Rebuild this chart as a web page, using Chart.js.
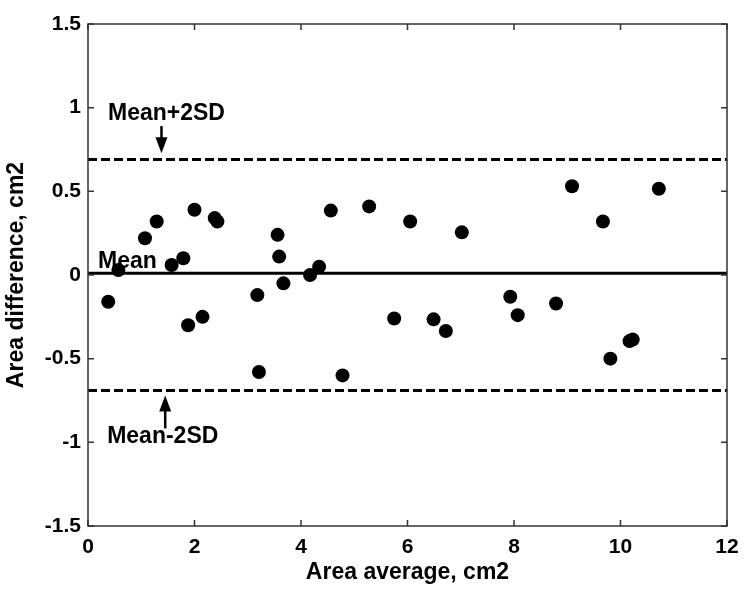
<!DOCTYPE html>
<html>
<head>
<meta charset="utf-8">
<script src="https://cdn.jsdelivr.net/npm/chart.js@4.4.1/dist/chart.umd.min.js"></script>
<style>
  html, body { margin: 0; padding: 0; background: #fff; }
  #wrap { width: 750px; height: 593px; }
</style>
</head>
<body>
<div id="wrap"><canvas id="baChart" width="750" height="593"></canvas></div>
<script>
// Bland-Altman: area average vs area difference
var areaAverage = [0.38, 0.57, 1.07, 1.29, 1.57, 1.79, 2.00, 1.88, 2.15, 2.38, 2.43,
                   3.56, 3.59, 3.67, 3.18, 3.21, 4.56, 5.28, 6.05, 7.02, 4.17, 4.34,
                   4.78, 5.75, 6.49, 6.72, 9.09, 10.72, 9.67, 7.93, 8.07, 8.79, 9.81,
                   10.17, 10.23];
var areaDifference = [-0.16, 0.03, 0.22, 0.32, 0.06, 0.10, 0.39, -0.30, -0.25, 0.34, 0.32,
                      0.24, 0.11, -0.05, -0.12, -0.58, 0.385, 0.41, 0.32, 0.255, 0.00, 0.05,
                      -0.60, -0.26, -0.265, -0.335, 0.53, 0.515, 0.32, -0.13, -0.24, -0.17, -0.50,
                      -0.395, -0.386];

var meanDiff = 0.01;
var upperLimit = 0.69;
var lowerLimit = -0.69;
var xRange = [0, 12];

var xTickValues = [0, 2, 4, 6, 8, 10, 12];
var xTickLabels = ['0', '2', '4', '6', '8', '10', '12'];
var yTickValues = [-1.5, -1, -0.5, 0, 0.5, 1, 1.5];
var yTickLabels = ['-1.5', '-1', '-0.5', '0', '0.5', '1', '1.5'];

// label text anchored in data units, arrows from -> to
var labelTexts = ['Mean+2SD', 'Mean', 'Mean-2SD'];
var labelX = [0.375, 0.19, 0.36];
var labelY = [0.925, 0.04, -1.006];
var arrowX = [1.38, 1.45];
var arrowFromY = [0.89, -0.917];
var arrowToY = [0.727, -0.72];

var FONT = '"Liberation Sans", Arial, Helvetica, sans-serif';

var points = areaAverage.map(function (x, i) { return { x: x, y: areaDifference[i] }; });
function hline(v) { return [{ x: xRange[0], y: v }, { x: xRange[1], y: v }]; }

var frameAndNotes = {
    id: 'frameAndNotes',
    afterDatasetsDraw: function (chart) {
        var ctx = chart.ctx;
        var a = chart.chartArea;
        var xs = chart.scales.x, ys = chart.scales.y;
        var tl = 6;
        ctx.save();
        ctx.strokeStyle = '#333';
        ctx.lineWidth = 1.5;
        ctx.strokeRect(a.left, a.top, a.right - a.left, a.bottom - a.top);
        ctx.beginPath();
        xTickValues.forEach(function (v) {
            var px = xs.getPixelForValue(v);
            ctx.moveTo(px, a.bottom); ctx.lineTo(px, a.bottom - tl);
            ctx.moveTo(px, a.top); ctx.lineTo(px, a.top + tl);
        });
        yTickValues.forEach(function (v) {
            var py = ys.getPixelForValue(v);
            ctx.moveTo(a.left, py); ctx.lineTo(a.left + tl, py);
            ctx.moveTo(a.right, py); ctx.lineTo(a.right - tl, py);
        });
        ctx.stroke();

        ctx.fillStyle = '#000';
        ctx.font = 'bold 23px ' + FONT;
        ctx.textBaseline = 'alphabetic';
        ctx.textAlign = 'left';
        labelTexts.forEach(function (t, i) {
            ctx.fillText(t, xs.getPixelForValue(labelX[i]), ys.getPixelForValue(labelY[i]));
        });

        ctx.strokeStyle = '#000';
        ctx.lineWidth = 2.5;
        arrowX.forEach(function (x, i) {
            var px = xs.getPixelForValue(x);
            var y0 = ys.getPixelForValue(arrowFromY[i]);
            var y1 = ys.getPixelForValue(arrowToY[i]);
            var dir = y1 > y0 ? 1 : -1;
            ctx.beginPath();
            ctx.moveTo(px, y0);
            ctx.lineTo(px, y1 - dir * 10);
            ctx.stroke();
            ctx.beginPath();
            ctx.moveTo(px, y1);
            ctx.lineTo(px - 6, y1 - dir * 16);
            ctx.lineTo(px + 6, y1 - dir * 16);
            ctx.closePath();
            ctx.fill();
        });
        ctx.restore();
    }
};

var ctx = document.getElementById('baChart').getContext('2d');
var chart = new Chart(ctx, {
    data: {
        datasets: [
            { type: 'line', data: hline(upperLimit), borderColor: '#000', borderWidth: 3,
              borderDash: [9, 4], pointRadius: 0, order: 2 },
            { type: 'line', data: hline(meanDiff), borderColor: '#000', borderWidth: 3,
              pointRadius: 0, order: 2 },
            { type: 'line', data: hline(lowerLimit), borderColor: '#000', borderWidth: 3,
              borderDash: [9, 4], pointRadius: 0, order: 2 },
            { type: 'scatter', data: points, backgroundColor: '#000', borderColor: '#000',
              pointRadius: 7, borderWidth: 0, order: 1 }
        ]
    },
    options: {
        responsive: false,
        animation: false,
        layout: { padding: { top: 24, right: 23, left: 0, bottom: 0 } },
        plugins: { legend: { display: false }, tooltip: { enabled: false } },
        scales: {
            x: {
                type: 'linear',
                min: 0, max: 12,
                afterBuildTicks: function (s) { s.ticks = xTickValues.map(function (v) { return { value: v }; }); },
                afterFit: function (s) { s.height = 67; },
                grid: { display: false, drawTicks: false },
                border: { display: false },
                ticks: {
                    color: '#000', padding: 9,
                    font: { family: FONT, size: 21, weight: 'bold' },
                    callback: function (v) { return xTickLabels[xTickValues.indexOf(v)]; }
                },
                title: {
                    display: true, text: 'Area average, cm2', color: '#000',
                    font: { family: FONT, size: 23, weight: 'bold' },
                    padding: { top: 0, bottom: 7 }
                }
            },
            y: {
                type: 'linear',
                min: -1.5, max: 1.5,
                afterBuildTicks: function (s) { s.ticks = yTickValues.map(function (v) { return { value: v }; }); },
                afterFit: function (s) { s.width = 88; },
                grid: { display: false, drawTicks: false },
                border: { display: false },
                ticks: {
                    color: '#000', padding: 7,
                    font: { family: FONT, size: 21, weight: 'bold' },
                    callback: function (v) { return yTickLabels[yTickValues.indexOf(v)]; }
                },
                title: {
                    display: true, text: 'Area difference, cm2', color: '#000',
                    font: { family: FONT, size: 23, weight: 'bold' },
                    padding: { top: 3, bottom: 0 }
                }
            }
        }
    },
    plugins: [frameAndNotes]
});
</script>
</body>
</html>
